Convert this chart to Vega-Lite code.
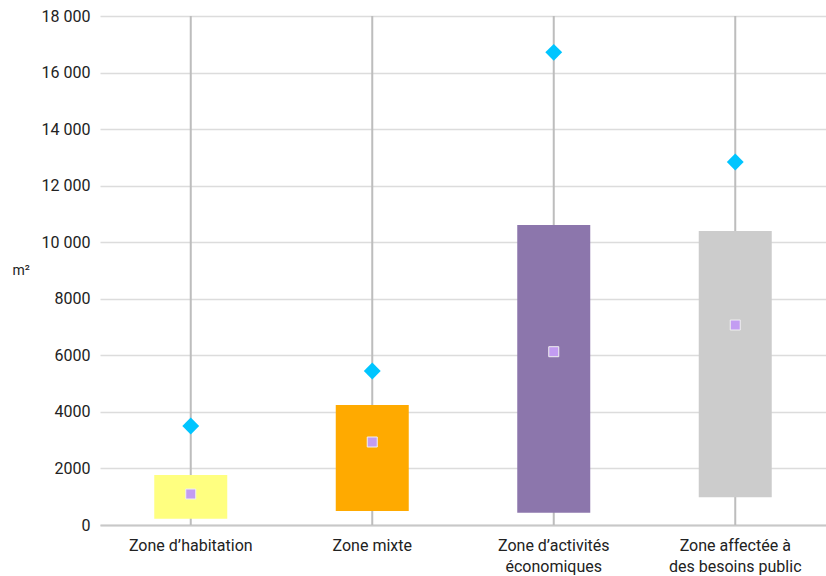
{
  "$schema": "https://vega.github.io/schema/vega-lite/v6.json",
  "width": 726,
  "height": 509,
  "autosize": {"type": "none"},
  "padding": {"left": 100, "top": 16, "right": 0, "bottom": 51},
  "background": "white",
  "config": {
    "view": {"stroke": null},
    "font": "Roboto",
    "axis": {"labelFont": "Roboto", "titleFont": "Roboto", "labelColor": "#222222", "titleColor": "#222222"}
  },
  "data": {
    "values": [
      {"zone": "Zone d’habitation", "lo": 0, "hi": 18000, "q1": 223, "q3": 1768, "mean": 1096, "high": 3500},
      {"zone": "Zone mixte", "lo": 0, "hi": 18000, "q1": 495, "q3": 4243, "mean": 2935, "high": 5446},
      {"zone": "Zone d’activités|économiques", "lo": 0, "hi": 18000, "q1": 435, "q3": 10608, "mean": 6128, "high": 16715},
      {"zone": "Zone affectée à|des besoins public", "lo": 0, "hi": 18000, "q1": 979, "q3": 10396, "mean": 7072, "high": 12836}
    ]
  },
  "encoding": {
    "x": {
      "field": "zone",
      "type": "nominal",
      "sort": null,
      "scale": {"paddingInner": 0, "paddingOuter": 0},
      "axis": {
        "title": null,
        "labelAngle": 0,
        "labelExpr": "split(datum.value, '|')",
        "labelFontSize": 16,
        "labelLineHeight": 21,
        "labelPadding": 12,
        "ticks": false,
        "domainColor": "#c8c8c8",
        "domainWidth": 2,
        "grid": false
      }
    }
  },
  "layer": [
    {
      "mark": {"type": "rule", "color": "#bdbdbd", "strokeWidth": 2},
      "encoding": {
        "y": {
          "field": "lo",
          "type": "quantitative",
          "scale": {"domain": [0, 18000], "nice": false},
          "axis": {
            "title": "m²",
            "titleAngle": 0,
            "titleAlign": "left",
            "titleBaseline": "middle",
            "titleX": -88,
            "titleY": 254,
            "titleFontSize": 14,
            "titleFontWeight": "normal",
            "values": [0, 2000, 4000, 6000, 8000, 10000, 12000, 14000, 16000, 18000],
            "labelOverlap": false,
            "labelExpr": "datum.value >= 10000 ? format(floor(datum.value/1000), 'd') + ' 000' : format(datum.value, 'd')",
            "labelFontSize": 16,
            "labelPadding": 10,
            "ticks": false,
            "domain": false,
            "gridColor": "#dcdcdc",
            "gridWidth": 1.5
          }
        },
        "y2": {"field": "hi"}
      }
    },
    {
      "mark": {"type": "bar", "size": 73},
      "encoding": {
        "y": {"field": "q1", "type": "quantitative"},
        "y2": {"field": "q3"},
        "color": {
          "field": "zone",
          "type": "nominal",
          "legend": null,
          "scale": {
            "domain": ["Zone d’habitation", "Zone mixte", "Zone d’activités|économiques", "Zone affectée à|des besoins public"],
            "range": ["#ffff80", "#ffaa00", "#8c76ac", "#cccccc"]
          }
        }
      }
    },
    {
      "mark": {"type": "point", "shape": "diamond", "filled": true, "size": 285, "color": "#00c5ff", "opacity": 1},
      "encoding": {
        "y": {"field": "high", "type": "quantitative"}
      }
    },
    {
      "mark": {"type": "point", "shape": "square", "filled": true, "size": 100, "color": "#c39cf2", "stroke": "#f0f0f0", "strokeWidth": 1, "opacity": 1},
      "encoding": {
        "y": {"field": "mean", "type": "quantitative"}
      }
    }
  ]
}
